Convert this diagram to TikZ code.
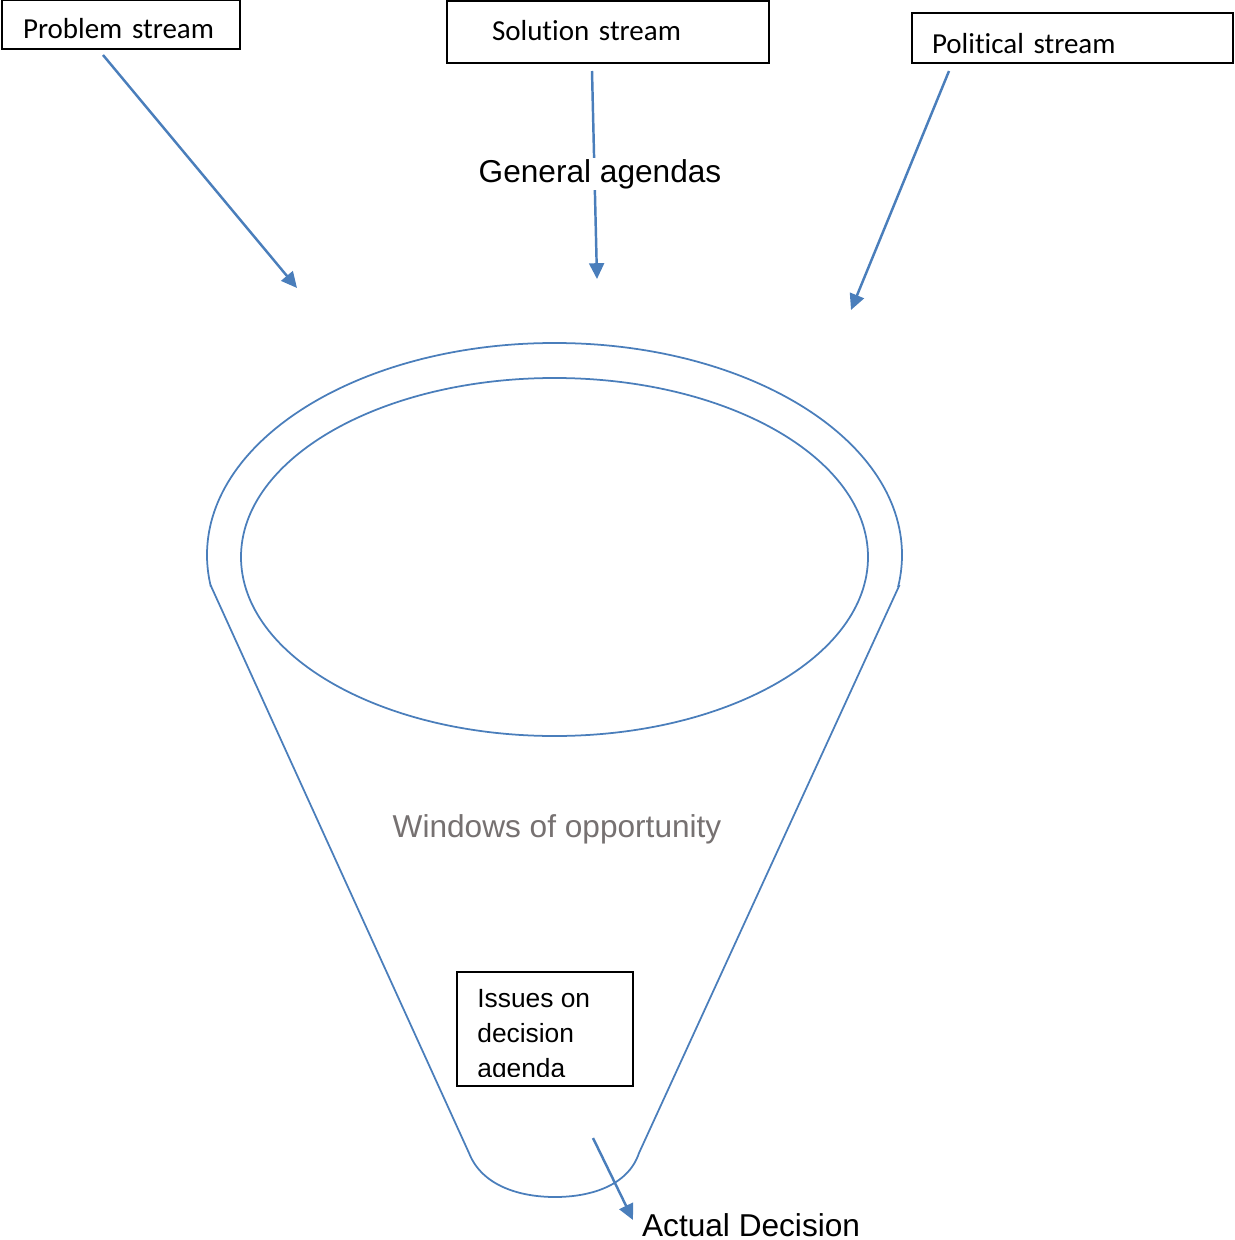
\documentclass[tikz,border=0pt]{standalone}
\usepackage{fontspec}
\setmainfont{Liberation Sans}
\newfontfamily\calfont[Ligatures=NoCommon]{Carlito}
\usetikzlibrary{arrows.meta}
\definecolor{funnelblue}{RGB}{74,126,187}
\definecolor{softgray}{RGB}{118,113,113}
\tikzset{
  streambox/.style={draw=black, line width=0.7pt, font=\calfont\fontsize{16.5}{19}\selectfont, align=left, anchor=center, text depth=0pt},
  flowarrow/.style={draw=funnelblue, line width=1.4pt, -{Triangle[length=9pt,width=8.5pt]}},
  funnelline/.style={draw=funnelblue, line width=1pt},
  plainlabel/.style={font=\fontsize{18}{21}\selectfont, inner sep=1pt}
}
\begin{document}
\begin{tikzpicture}[x=0.02cm,y=-0.02cm]
\useasboundingbox (0,0) rectangle (1234,1240);
% stream boxes
\node[streambox, minimum width=4.76cm, minimum height=0.98cm, text width=3.92cm, inner xsep=0.42cm, text height=16.5pt] (prob) at (121,24.5) {Problem stream};
\node[streambox, minimum width=6.44cm, minimum height=1.24cm, text width=4.64cm, inner xsep=0.9cm, text height=10pt] (sol) at (608,32) {Solution stream};
\node[streambox, minimum width=6.42cm, minimum height=1.0cm, text width=5.62cm, inner xsep=0.4cm, text height=17.9pt] (pol) at (1072.5,38) {Political stream};
% arrow end points
\coordinate (probS) at (103,55);
\coordinate (probE) at (297,288);
\coordinate (solS) at (592,71);
\coordinate (solE) at (597,279);
\coordinate (polS) at (949,71);
\coordinate (polE) at (851,310);
\coordinate (decS) at (593,1138);
\coordinate (decE) at (633,1220);
\draw[flowarrow] (probS) -- (probE);
\draw[flowarrow] (solS) -- (solE);
\draw[flowarrow] (polS) -- (polE);
\node[plainlabel, fill=white] (gen) at (600,174) {General agendas};
% funnel
\begin{scope}
  \clip (0,0) rectangle (1234,586);
  \draw[funnelline] (554.5,555) ellipse [x radius=347.5, y radius=212];
\end{scope}
\draw[funnelline] (554.5,557) ellipse [x radius=313.5, y radius=179];
\draw[funnelline] (210.5,585) -- (469,1153)
  .. controls (482,1186) and (520,1197) .. (555,1197)
  .. controls (590,1197) and (628,1186) .. (639,1153) -- (899.5,585);
\node[plainlabel, text=softgray] (win) at (557,829) {Windows of opportunity};
% issues box
\node[draw=black, line width=0.7pt, minimum width=3.52cm, minimum height=2.28cm, inner sep=0pt] (iss) at (545,1029) {};
\begin{scope}
  \clip (457,972) rectangle (633,1076);
  \node[anchor=north west, align=left, inner sep=0pt, font=\fontsize{15}{19.8}\selectfont] (isstext) at (477,989) {Issues on\\decision\\agenda};
\end{scope}
\draw[flowarrow] (decS) -- (decE);
\node[plainlabel, anchor=base west] (act) at (640,1236) {Actual Decision};
\end{tikzpicture}
\end{document}
